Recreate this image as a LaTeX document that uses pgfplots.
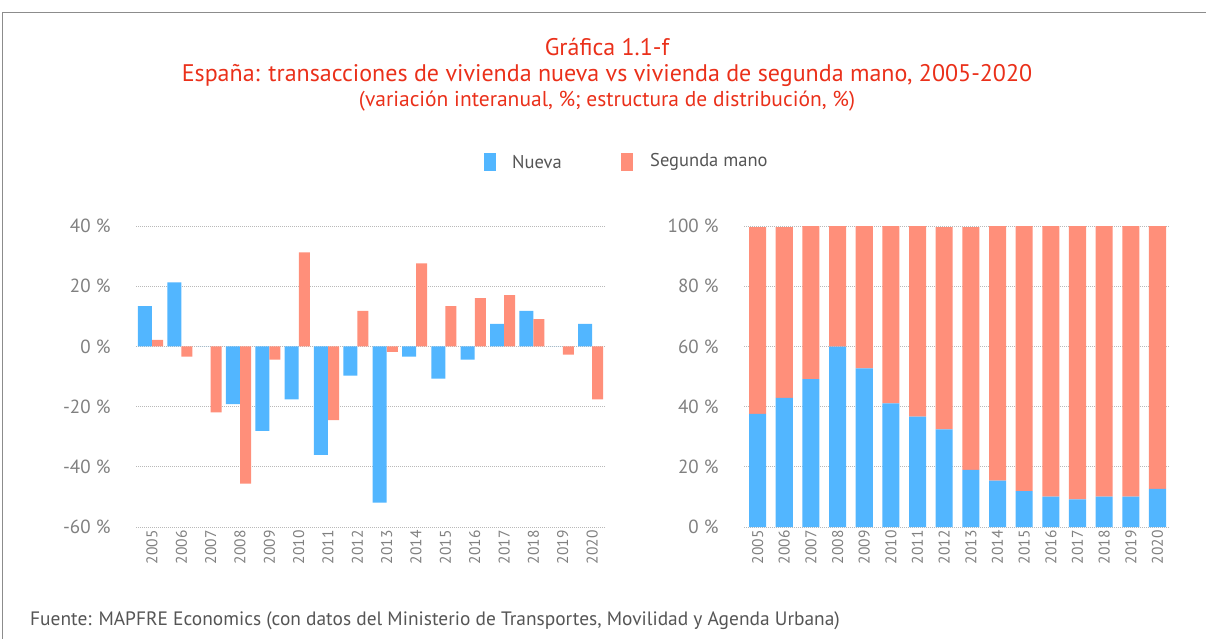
\documentclass[border=0pt]{standalone}
\usepackage{pgfplots}
\pgfplotsset{compat=1.18}
\usepackage{fontspec}
\setmainfont{PT Sans}
\definecolor{nblue}{RGB}{82,182,255}
\definecolor{nsalmon}{RGB}{255,143,122}
\definecolor{titlered}{RGB}{234,48,26}
\definecolor{ticktext}{RGB}{128,128,128}
\definecolor{legtext}{RGB}{85,85,85}
\begin{document}
\begin{tikzpicture}[x=1pt,y=1pt]
\useasboundingbox (0,0) rectangle (1206,-639);
\draw[color=gray!90, line width=1pt] (1206,-13) -- (2,-13) -- (2,-639);
\node[text=titlered, font=\fontsize{24}{28}\selectfont] at (607,-47) {Gráfica 1.1-f};
\node[text=titlered, font=\fontsize{24}{28}\selectfont] at (607,-75) {España: transacciones de vivienda nueva vs vivienda de segunda mano, 2005-2020};
\node[text=titlered, font=\fontsize{21.5}{25}\selectfont] at (607,-101) {(variación interanual, \%; estructura de distribución, \%)};
% legend
\fill[nblue] (484,-153) rectangle (496,-171);
\node[anchor=west, text=legtext, font=\fontsize{18.5}{22}\selectfont, inner sep=0] at (512,-162) {Nueva};
\fill[nsalmon] (621,-153) rectangle (633,-171);
\node[anchor=west, text=legtext, font=\fontsize{18.5}{22}\selectfont, inner sep=0] at (650,-162) {Segunda mano};
\node[anchor=west, text=legtext, font=\fontsize{19.4}{22}\selectfont, inner sep=0] at (30,-621) {Fuente: MAPFRE Economics (con datos del Ministerio de Transportes, Movilidad y Agenda Urbana)};

\pgfplotsset{
  mystyle/.style={
    scale only axis,
    axis line style={draw=none},
    tick style={draw=none},
    ymajorgrids,
    grid style={color=gray!55, line width=0.7pt, dash pattern=on 1pt off 1pt},
    xtick={0,...,15},
    xticklabels={2005,2006,2007,2008,2009,2010,2011,2012,2013,2014,2015,2016,2017,2018,2019,2020},
    x tick label style={rotate=90, anchor=east, font=\fontsize{15.5}{18}\selectfont, text=ticktext},
    y tick label style={font=\fontsize{19}{22}\selectfont, text=ticktext, xshift=-22pt},
    yticklabel={\pgfmathprintnumber{\tick}~\%},
    /pgf/number format/assume math mode=true,
  }
}

\begin{axis}[mystyle,
  at={(136pt,-527pt)}, anchor=south west,
  width=469pt, height=301pt,
  xmin=-0.545, xmax=15.44,
  ymin=-60, ymax=40,
  ytick={-60,-40,-20,0,20,40},
]
\addplot[ybar, bar width=0.477, bar shift=-0.24, fill=nblue, draw=none] coordinates {
(0,13.4) (1,21.3) (2,0) (3,-19.2) (4,-28.1) (5,-17.6) (6,-36.0) (7,-9.7)
(8,-51.9) (9,-3.4) (10,-10.7) (11,-4.4) (12,7.5) (13,11.8) (14,0) (15,7.5)};
\addplot[ybar, bar width=0.375, bar shift=0.19, fill=nsalmon, draw=none] coordinates {
(0,2.2) (1,-3.4) (2,-21.9) (3,-45.6) (4,-4.4) (5,31.2) (6,-24.5) (7,11.8)
(8,-1.8) (9,27.6) (10,13.4) (11,16.0) (12,17.0) (13,9.1) (14,-2.7) (15,-17.6)};
\end{axis}

\begin{axis}[mystyle,
  at={(744pt,-527pt)}, anchor=south west,
  width=426pt, height=301pt,
  xmin=-0.51, xmax=15.47,
  ymin=0, ymax=100,
  ytick={0,20,40,60,80,100},
  ybar stacked, bar width=0.64,
]
\addplot[fill=nblue, draw=none] coordinates {
(0,37.6) (1,42.9) (2,49.1) (3,59.9) (4,52.7) (5,41.1) (6,36.7) (7,32.4)
(8,19.0) (9,15.4) (10,11.9) (11,10.1) (12,9.2) (13,10.1) (14,10.1) (15,12.7)};
\addplot[fill=nsalmon, draw=none] coordinates {
(0,62.0) (1,56.7) (2,50.9) (3,40.1) (4,47.3) (5,58.9) (6,63.3) (7,67.2)
(8,80.6) (9,84.6) (10,88.1) (11,89.9) (12,90.8) (13,89.9) (14,89.9) (15,87.3)};
\end{axis}
\end{tikzpicture}
\end{document}
